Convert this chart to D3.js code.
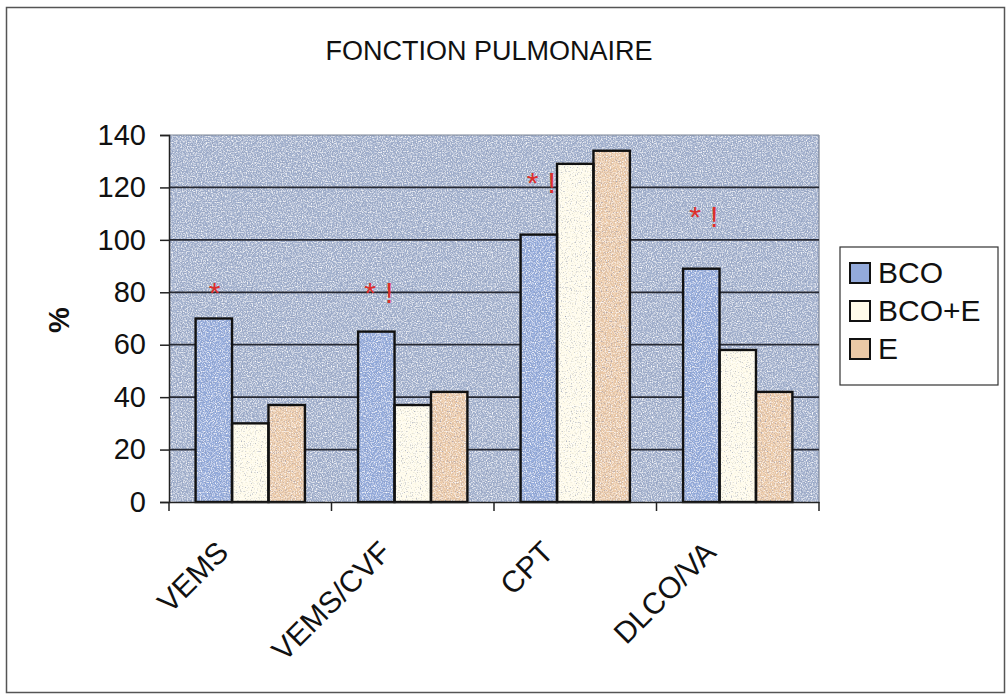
<!DOCTYPE html>
<html>
<head>
<meta charset="utf-8">
<script src="https://cdn.jsdelivr.net/npm/d3@7/dist/d3.min.js"></script>
<style>
  body { margin: 0; background: #fff; }
  svg { display: block; font-family: Arial, "Liberation Sans", sans-serif; }
</style>
</head>
<body>
<div class="content"></div>
<script>
const w = 1006;
const h = 695;

// data
const categories = ['VEMS', 'VEMS/CVF', 'CPT', 'DLCO/VA'];
const series = ['BCO', 'BCO+E', 'E'];
const bco = [70, 65, 102, 89];
const bcoE = [30, 37, 129, 58];
const e = [37, 42, 134, 42];
const yTicks = [0, 20, 40, 60, 80, 100, 120, 140];
// significance marks above each group (value where the baseline sits)
const marks = ['*', '* !', '* !', '* !'];
const markLevel = [76, 76, 118, 105];

const colors = ['#93aadb', '#fffbe9', '#ebc9a6'];
const values = [bco, bcoE, e];

const m = { left: 169, top: 135, right: 819, bottom: 502 };

const svg = d3.select('.content').append('svg')
  .attr('width', w)
  .attr('height', h);

// speckle texture, like the scanned print
const defs = svg.append('defs');
const f = defs.append('filter').attr('id', 'speckle')
  .attr('x', 0).attr('y', 0).attr('width', 1).attr('height', 1);
f.append('feTurbulence')
  .attr('type', 'fractalNoise')
  .attr('baseFrequency', 0.8)
  .attr('numOctaves', 2)
  .attr('seed', 3)
  .attr('result', 'noise');
f.append('feColorMatrix')
  .attr('in', 'noise')
  .attr('type', 'matrix')
  .attr('values', '0 0 0 0 1  0 0 0 0 1  0 0 0 0 1  0 0 0 -2.4 1.3')
  .attr('result', 'light');
f.append('feColorMatrix')
  .attr('in', 'noise')
  .attr('type', 'matrix')
  .attr('values', '0 0 0 0 0.25  0 0 0 0 0.3  0 0 0 0 0.45  0 0 0 2.6 -1.45')
  .attr('result', 'dark');
f.append('feMerge').attr('result', 'spots').call(mg => {
  mg.append('feMergeNode').attr('in', 'SourceGraphic');
  mg.append('feMergeNode').attr('in', 'light');
  mg.append('feMergeNode').attr('in', 'dark');
});
f.append('feComposite')
  .attr('in', 'spots')
  .attr('in2', 'SourceGraphic')
  .attr('operator', 'in');

// outer frame
svg.append('rect')
  .attr('x', 6.5).attr('y', 7.5)
  .attr('width', 998).attr('height', 685)
  .attr('fill', 'none')
  .attr('stroke', '#555')
  .attr('stroke-width', 1.5);

const x = d3.scaleBand()
  .domain(categories)
  .range([m.left, m.right])
  .paddingInner(0)
  .paddingOuter(0);

const x1 = d3.scaleBand()
  .domain(series)
  .range([0, x.bandwidth()])
  .paddingOuter(0.73)
  .paddingInner(0);

const y = d3.scaleLinear()
  .domain([0, 140])
  .range([m.bottom, m.top]);

// plot area
svg.append('rect')
  .attr('x', m.left).attr('y', m.top)
  .attr('width', m.right - m.left).attr('height', m.bottom - m.top)
  .attr('fill', '#a3b1ce')
  .attr('filter', 'url(#speckle)');

svg.append('line')
  .attr('x1', m.left).attr('x2', m.right)
  .attr('y1', m.top).attr('y2', m.top)
  .attr('stroke', '#7d8596')
  .attr('stroke-width', 1.2);
svg.append('line')
  .attr('x1', m.right).attr('x2', m.right)
  .attr('y1', m.top).attr('y2', m.bottom)
  .attr('stroke', '#7d8596')
  .attr('stroke-width', 1.2);

// grid lines
svg.append('g')
  .selectAll('line')
  .data(yTicks.filter(d => d > 0 && d < 140))
  .enter()
  .append('line')
  .attr('x1', m.left).attr('x2', m.right)
  .attr('y1', d => y(d)).attr('y2', d => y(d))
  .attr('stroke', '#262933')
  .attr('stroke-width', 1.8);

// bars
const groups = svg.append('g')
  .selectAll('g')
  .data(categories)
  .enter()
  .append('g')
  .attr('transform', d => `translate(${x(d)},0)`);

const barData = (d, i) => series.map((s, j) => ({ s, v: values[j][i], c: colors[j] }));

groups.selectAll('rect.fill')
  .data(barData)
  .enter()
  .append('rect')
  .attr('class', 'fill')
  .attr('x', d => x1(d.s))
  .attr('y', d => y(d.v))
  .attr('width', x1.bandwidth())
  .attr('height', d => y(0) - y(d.v))
  .attr('fill', d => d.c)
  .attr('filter', 'url(#speckle)');

groups.selectAll('rect.edge')
  .data(barData)
  .enter()
  .append('rect')
  .attr('class', 'edge')
  .attr('x', d => x1(d.s))
  .attr('y', d => y(d.v))
  .attr('width', x1.bandwidth())
  .attr('height', d => y(0) - y(d.v))
  .attr('fill', 'none')
  .attr('stroke', '#111')
  .attr('stroke-width', 2.4);

// significance marks
groups.append('text')
  .attr('x', x1('BCO') + x1.bandwidth() / 2)
  .attr('y', (d, i) => y(markLevel[i]))
  .attr('fill', '#dd2f2b')
  .attr('font-size', 30)
  .attr('text-anchor', 'start')
  .each(function (d, i) {
    const parts = marks[i].split(' ');
    const t = d3.select(this);
    t.append('tspan').attr('dx', parts.length > 1 ? -12 : -5).text(parts[0]);
    if (parts.length > 1) t.append('tspan').attr('dx', 9).text(parts[1]);
  });

// y axis
const yAxis = svg.append('g')
  .attr('transform', `translate(${m.left},0)`)
  .call(d3.axisLeft(y).tickValues(yTicks).tickSize(9).tickPadding(14));
yAxis.select('.domain').attr('stroke', '#222').attr('stroke-width', 1.5);
yAxis.selectAll('.tick line').attr('stroke', '#222').attr('stroke-width', 1.5);
yAxis.selectAll('.tick text')
  .attr('font-size', 29)
  .attr('fill', '#111')
  .attr('font-family', 'Arial, "Liberation Sans", sans-serif');

// x axis
const xAxis = svg.append('g')
  .attr('transform', `translate(0,${m.bottom})`)
  .call(d3.axisBottom(x).tickSize(0).tickFormat(''));
xAxis.select('.domain').attr('stroke', '#222').attr('stroke-width', 1.5);

svg.append('g')
  .selectAll('line')
  .data(d3.range(categories.length + 1))
  .enter()
  .append('line')
  .attr('x1', i => m.left + i * x.bandwidth())
  .attr('x2', i => m.left + i * x.bandwidth())
  .attr('y1', m.bottom).attr('y2', m.bottom + 9)
  .attr('stroke', '#222')
  .attr('stroke-width', 1.5);

svg.append('g')
  .selectAll('text')
  .data(categories)
  .enter()
  .append('text')
  .attr('transform', d => `translate(${x(d) + x.bandwidth() / 2 - 20},${m.bottom + 52}) rotate(-45)`)
  .attr('text-anchor', 'end')
  .attr('font-size', 30)
  .attr('fill', '#111')
  .text(d => d);

// y label
svg.append('text')
  .attr('transform', 'translate(69,320) rotate(-90)')
  .attr('text-anchor', 'middle')
  .attr('font-size', 29)
  .attr('font-weight', 'bold')
  .attr('fill', '#111')
  .text('%');

// title
svg.append('text')
  .attr('x', 489)
  .attr('y', 60)
  .attr('text-anchor', 'middle')
  .attr('font-size', 27)
  .attr('fill', '#111')
  .text('FONCTION PULMONAIRE');

// legend
const lg = svg.append('g').attr('transform', 'translate(840,247)');
lg.append('rect')
  .attr('width', 158).attr('height', 138)
  .attr('fill', '#fff')
  .attr('stroke', '#333')
  .attr('stroke-width', 1.2);

const items = lg.selectAll('g.item')
  .data(series)
  .enter()
  .append('g')
  .attr('class', 'item')
  .attr('transform', (d, i) => `translate(10,${26 + i * 38})`);

items.append('rect')
  .attr('x', 0).attr('y', -10)
  .attr('width', 20).attr('height', 20)
  .attr('fill', (d, i) => colors[i])
  .attr('stroke', '#111')
  .attr('stroke-width', 2);

items.append('text')
  .attr('x', 28)
  .attr('y', 10)
  .attr('font-size', 30)
  .attr('fill', '#111')
  .text(d => d);
</script>
</body>
</html>
